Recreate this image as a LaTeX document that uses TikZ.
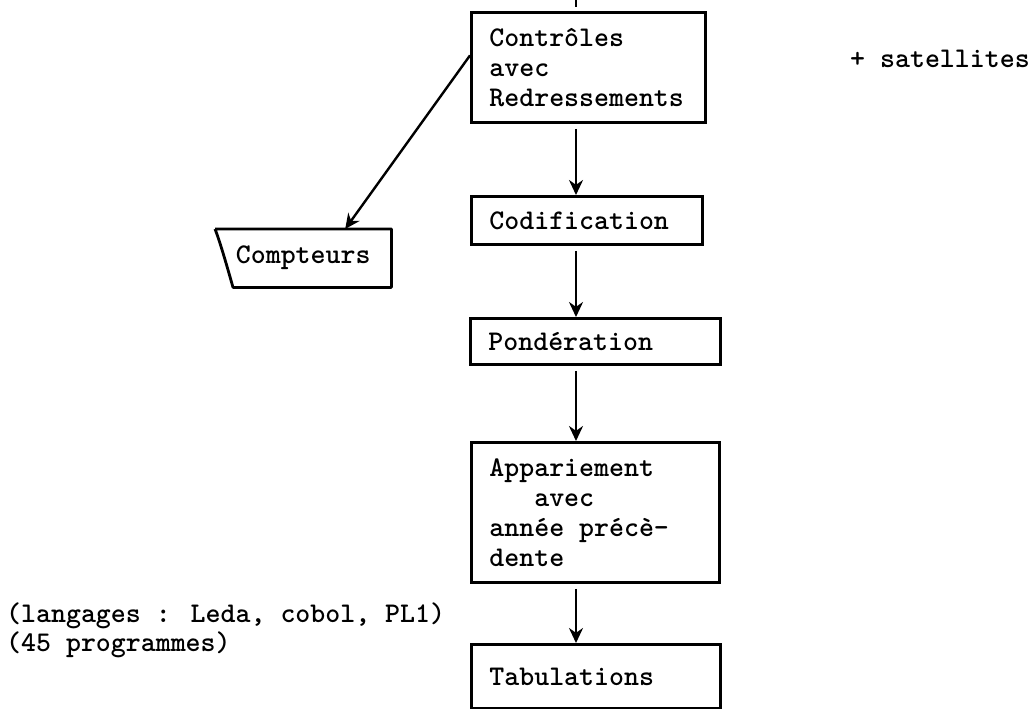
\documentclass[tikz,border=0pt]{standalone}
\usetikzlibrary{arrows.meta}
\begin{document}
\begin{tikzpicture}[x=1pt,y=-1pt,
  every node/.style={font=\ttfamily\bfseries\fontsize{28.5}{30}\selectfont},
  stepbox/.style={draw, line width=2.8pt, inner xsep=18pt, inner ysep=0pt,
    align=left, anchor=north west},
  flow/.style={line width=2.4pt, -{Stealth[length=15pt,width=14pt]}, shorten <=5pt},
  plain/.style={inner sep=0pt, anchor=base west}]
\useasboundingbox (0,0) rectangle (1034,709);

% processing chain
\node[stepbox, minimum width=234pt, minimum height=110pt, text width=198pt] (ctrl) at (470,11)
  {Contrôles\\avec\\Redressements};
\node[stepbox, minimum width=231pt, minimum height=48pt, text width=195pt] (cod) at (470,195)
  {Codification};
\node[stepbox, minimum width=250pt, minimum height=46pt, text width=214pt] (pond) at (469,317)
  {Pondération};
\node[stepbox, minimum width=248pt, minimum height=140pt, text width=212pt] (app) at (470,441)
  {Appariement\\\phantom{xxx}avec\\année\hspace{.525em}précè-\\dente};
\node[stepbox, minimum width=249pt, minimum height=64pt, text width=213pt] (tab) at (470,643)
  {Tabulations};

% counters output (torn-edge card)
\node[inner sep=0pt, minimum width=176pt, minimum height=58pt, anchor=north west] (cpt) at (215,229)
  {Compteurs};
\draw[line width=2.8pt, line join=round]
  (cpt.north west) -- (cpt.north east) -- (cpt.south east) -- ([xshift=18pt]cpt.south west)
  .. controls ([xshift=10pt,yshift=-30pt]cpt.north west) and ([xshift=4pt,yshift=-10pt]cpt.north west) .. (cpt.north west);

% side notes
\node[plain] (sat) at (850,68) {+ satellites};
\node[plain] (lang1) at (6,622) {(langages : Leda, cobol, PL1)};
\node[plain] (lang2) at (6,651) {(45 programmes)};

% connectors
\coordinate (ax) at (576,0);
\coordinate (feedTop) at (576,-2);
\coordinate (feedEnd) at (576,7);
\draw[line width=2.4pt] (feedTop) -- (feedEnd);
\draw[flow] (ctrl.south -| ax) -- (cod.north -| ax);
\draw[flow] (cod.south -| ax) -- (pond.north -| ax);
\draw[flow] (pond.south -| ax) -- (app.north -| ax);
\draw[flow] (app.south -| ax) -- (tab.north -| ax);
\draw[flow, shorten <=0pt] ([yshift=12pt]ctrl.west) -- ([xshift=42pt]cpt.north);
\end{tikzpicture}
\end{document}
